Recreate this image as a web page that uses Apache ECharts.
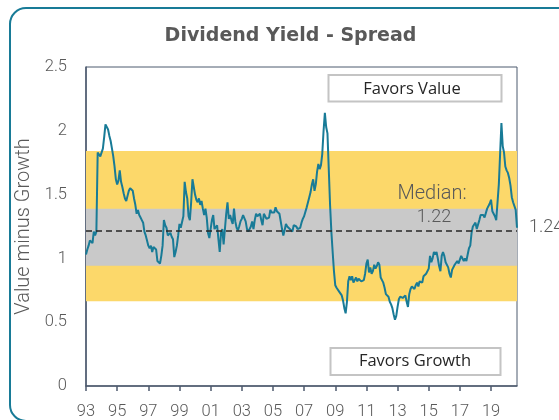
<!DOCTYPE html>
<html>
<head>
<meta charset="utf-8">
<script src="https://cdn.jsdelivr.net/npm/echarts@6/dist/echarts.min.js"></script>
<style>html,body{margin:0;padding:0;background:#fff;}#c{width:559px;height:420px;}</style>
</head>
<body>
<div id="c"></div>
<script>
// Monthly spread values, Jan 1993 .. Sep 2020
const spread = [
1.03,1.07,1.10,1.14,1.13,1.12,1.21,1.18,1.21,1.83,1.84,1.80,1.79,1.86,1.95,2.05,2.06,2.01,1.96,1.92,
1.86,1.80,1.72,1.62,1.58,1.61,1.69,1.60,1.56,1.51,1.47,1.45,1.49,1.53,1.55,1.54,1.53,1.47,1.42,1.35,
1.38,1.34,1.32,1.30,1.28,1.21,1.18,1.14,1.10,1.08,1.10,1.05,1.09,1.10,1.07,0.98,0.97,0.96,1.02,1.10,
1.30,1.26,1.24,1.18,1.19,1.20,1.17,1.15,1.01,1.05,1.10,1.18,1.27,1.24,1.23,1.33,1.60,1.52,1.47,1.33,
1.30,1.44,1.62,1.62,1.50,1.46,1.44,1.47,1.42,1.45,1.39,1.34,1.39,1.32,1.20,1.16,1.23,1.30,1.34,1.23,
1.24,1.26,1.15,1.05,1.20,1.23,1.11,1.23,1.35,1.44,1.31,1.34,1.30,1.27,1.39,1.29,1.24,1.22,1.25,1.29,
1.31,1.34,1.35,1.29,1.23,1.21,1.20,1.25,1.29,1.23,1.30,1.35,1.33,1.34,1.35,1.30,1.26,1.35,1.33,1.31,
1.31,1.32,1.38,1.36,1.37,1.36,1.40,1.37,1.36,1.35,1.29,1.23,1.18,1.22,1.27,1.25,1.24,1.23,1.22,1.21,
1.26,1.27,1.25,1.23,1.22,1.24,1.28,1.31,1.33,1.34,1.40,1.44,1.48,1.52,1.58,1.62,1.53,1.58,1.68,1.74,
1.70,1.73,1.82,2.00,2.14,2.03,1.98,1.70,1.42,1.21,1.05,0.90,0.79,0.77,0.78,0.74,0.74,0.71,0.67,0.61,
0.57,0.66,0.82,0.86,0.83,0.86,0.81,0.83,0.85,0.82,0.84,0.83,0.82,0.83,0.83,0.88,0.96,0.99,0.89,0.93,
0.88,0.90,0.95,0.92,0.94,0.97,0.95,0.85,0.83,0.81,0.77,0.72,0.72,0.70,0.66,0.64,0.61,0.56,0.52,0.55,
0.62,0.68,0.70,0.70,0.69,0.68,0.71,0.66,0.62,0.72,0.76,0.78,0.77,0.76,0.79,0.81,0.78,0.82,0.83,0.81,
0.86,0.85,0.88,0.89,0.92,1.02,0.97,1.00,1.05,1.03,1.05,1.00,0.94,0.90,1.02,1.05,1.02,0.97,0.96,0.93,
0.88,0.85,0.91,0.92,0.95,0.96,0.98,0.96,0.99,1.02,1.01,0.98,1.00,0.98,1.03,1.08,1.10,1.20,1.25,1.26,
1.28,1.23,1.24,1.30,1.34,1.35,1.34,1.32,1.33,1.39,1.40,1.43,1.46,1.37,1.35,1.33,1.30,1.29,1.58,1.82,
2.06,1.88,1.83,1.72,1.69,1.67,1.63,1.57,1.48,1.44,1.45,1.38,1.24
];
const startYear = 1993;
const yearTickLabels = ['93','95','97','99','01','03','05','07','09','11','13','15','17','19'];
const yTicks = [0, 0.5, 1, 1.5, 2, 2.5];
const median = 1.22;
const outerBand = [0.665, 1.842];
const innerBand = [0.942, 1.39];

const months = spread.map((_, i) => {
  const y = startYear + Math.floor(i / 12);
  const m = (i % 12) + 1;
  return y + '-' + (m < 10 ? '0' + m : m);
});

const textGray = '#595959';
const axisCol = '#4d5a6e';
const teal = '#187b97';

const chart = echarts.init(document.getElementById('c'), null, {renderer: 'canvas'});
chart.setOption({
  animation: false,
  backgroundColor: '#ffffff',
  grid: {left: 86, right: 42, top: 67, bottom: 31, show: true, borderColor: axisCol, borderWidth: 1, backgroundColor: 'transparent'},
  xAxis: {
    type: 'category', data: months, boundaryGap: false,
    axisLine: {show: true, lineStyle: {color: axisCol, width: 1.5}},
    axisTick: {show: true, interval: 23, length: 5, inside: false, lineStyle: {color: axisCol, width: 1.5}},
    axisLabel: {
      interval: 23, margin: 17, color: textGray, fontFamily: 'Roboto', fontWeight: 300, fontSize: 16.5,
      formatter: (v, idx) => yearTickLabels[Math.round(idx / 24)] || ''
    },
    splitLine: {show: false}
  },
  yAxis: {
    type: 'value', min: yTicks[0], max: yTicks[yTicks.length - 1], interval: 0.5,
    name: 'Value minus Growth', nameLocation: 'middle', nameGap: 48,
    nameTextStyle: {color: textGray, fontFamily: 'Roboto', fontWeight: 300, fontSize: 20},
    axisLine: {show: true, lineStyle: {color: axisCol, width: 1.5}},
    axisTick: {show: false},
    axisLabel: {margin: 19, color: textGray, fontFamily: 'Roboto', fontWeight: 300, fontSize: 16.5},
    splitLine: {show: false}
  },
  series: [
    {
      type: 'line', data: spread, symbol: 'none', z: 1, silent: true,
      lineStyle: {opacity: 0},
      markArea: {
        silent: true,
        data: [
          [{yAxis: outerBand[0], itemStyle: {color: '#fcd86a', opacity: 1}}, {yAxis: outerBand[1]}],
          [{yAxis: innerBand[0], itemStyle: {color: '#c9c9c9', opacity: 1}}, {yAxis: innerBand[1]}]
        ]
      },
      markLine: {
        silent: true, symbol: ['none', 'none'],
        lineStyle: {type: [6, 4], color: '#262626', width: 1.5},
        label: {show: false},
        data: [{yAxis: median}]
      }
    },
    {
      type: 'line', data: spread, symbol: 'none', z: 3,
      lineStyle: {color: teal, width: 2},
      endLabel: {
        show: true, distance: 12, color: textGray, fontFamily: 'Roboto', fontWeight: 300, fontSize: 18,
        formatter: p => Number(p.value).toFixed(2)
      }
    }
  ],
  graphic: [
    {type: 'rect', z: 100, shape: {x: 10, y: 8, width: 620, height: 413, r: 16},
     style: {fill: 'none', stroke: teal, lineWidth: 2}},
    {type: 'text', z: 101, x: 290.5, y: 36.5,
     style: {text: 'Dividend Yield - Spread', align: 'center', verticalAlign: 'middle', fill: textGray, font: 'bold 19px "DejaVu Sans"'}},
    {type: 'rect', z: 100, shape: {x: 328.5, y: 75, width: 173, height: 26.5},
     style: {fill: '#ffffff', stroke: '#c4c4c4', lineWidth: 2}},
    {type: 'text', z: 101, x: 412, y: 89,
     style: {text: 'Favors Value', align: 'center', verticalAlign: 'middle', fill: '#262626', font: '16.5px "Open Sans"'}},
    {type: 'rect', z: 100, shape: {x: 330.5, y: 348, width: 170, height: 27},
     style: {fill: '#ffffff', stroke: '#c4c4c4', lineWidth: 2}},
    {type: 'text', z: 101, x: 415, y: 361,
     style: {text: 'Favors Growth', align: 'center', verticalAlign: 'middle', fill: '#262626', font: '16.5px "Open Sans"'}},
    {type: 'text', z: 101, x: 432, y: 194,
     style: {text: 'Median:', align: 'center', verticalAlign: 'middle', fill: textGray, font: '300 20px Roboto'}},
    {type: 'text', z: 101, x: 434, y: 217,
     style: {text: String(median), align: 'center', verticalAlign: 'middle', fill: textGray, font: '300 18px Roboto'}}
  ]
});
</script>
</body>
</html>
